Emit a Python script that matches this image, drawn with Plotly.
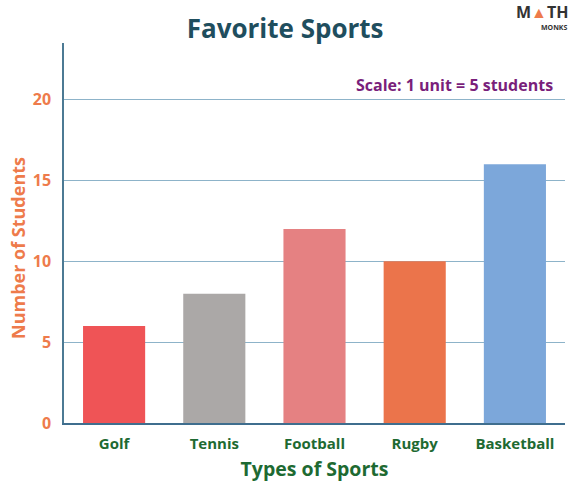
import plotly.graph_objects as go

# Favourite sports survey
sports = ["Golf", "Tennis", "Football", "Rugby", "Basketball"]
students = [6, 8, 12, 10, 16]
bar_colors = ["#EF5456", "#ABA8A7", "#E58182", "#EB744B", "#7CA7DA"]
y_ticks = [0, 5, 10, 15, 20]

FONT = "Open Sans"

# plot-area geometry in pixels
W, H = 576, 486
ML, MR, MT, MB = 64, 11, 43, 63
PW, PH = W - ML - MR, H - MT - MB


def px_to_paper(px, py):
    return (px - ML) / PW, (H - MB - py) / PH


fig = go.Figure(
    go.Bar(
        x=sports,
        y=students,
        marker=dict(color=bar_colors, line=dict(width=0)),
        hoverinfo="x+y",
    )
)

ytitle_x, ytitle_y = px_to_paper(18, 248)
scale_x, scale_y = px_to_paper(555, 85)
math_x, math_y = px_to_paper(570, 12)
monks_x, monks_y = px_to_paper(570, 27)

fig.update_layout(
    width=W,
    height=H,
    margin=dict(l=ML, r=MR, t=MT, b=MB, autoexpand=False),
    paper_bgcolor="white",
    plot_bgcolor="white",
    bargap=0.38,
    showlegend=False,
    title=dict(
        text="<b>Favorite Sports</b>",
        x=0.495,
        xanchor="center",
        y=1 - 29 / H,
        yanchor="middle",
        font=dict(family=FONT, size=26, color="#1F4E5E"),
    ),
    xaxis=dict(
        automargin=False,
        showline=True,
        linecolor="#3F6E8E",
        linewidth=1.5,
        ticks="",
        ticklabelstandoff=6,
        tickfont=dict(family=FONT, size=15, color="#1E6A32", weight="bold"),
        title=dict(
            text="<b>Types of Sports</b>",
            font=dict(family=FONT, size=19.5, color="#1E6A32"),
            standoff=11,
        ),
    ),
    yaxis=dict(
        automargin=False,
        range=[0, 23.5],
        tickvals=y_ticks,
        showline=True,
        linecolor="#4C7A94",
        linewidth=1.5,
        showgrid=True,
        gridcolor="#8DB3C9",
        gridwidth=1,
        zeroline=False,
        ticks="",
        ticklabelstandoff=8,
        tickfont=dict(family=FONT, size=16, color="#EE7B4B", weight="bold"),
    ),
    annotations=[
        dict(
            text="<b>Number of Students</b>",
            xref="paper",
            yref="paper",
            x=ytitle_x,
            y=ytitle_y,
            xanchor="center",
            yanchor="middle",
            textangle=-90,
            showarrow=False,
            font=dict(family=FONT, size=18, color="#EE7B4B"),
        ),
        dict(
            text="<b>Scale: 1 unit = 5 students</b>",
            xref="paper",
            yref="paper",
            x=scale_x,
            y=scale_y,
            xanchor="right",
            yanchor="middle",
            showarrow=False,
            font=dict(family=FONT, size=16, color="#7A1F7B"),
        ),
        dict(
            text="<b>M<span style='color:#EE7B4B'>▲</span>TH</b>",
            xref="paper",
            yref="paper",
            x=math_x,
            y=math_y,
            xanchor="right",
            yanchor="middle",
            showarrow=False,
            font=dict(family=FONT, size=16, color="#333333"),
        ),
        dict(
            text="<b>MONKS</b>",
            xref="paper",
            yref="paper",
            x=monks_x,
            y=monks_y,
            xanchor="right",
            yanchor="middle",
            showarrow=False,
            font=dict(family=FONT, size=7, color="#333333"),
        ),
    ],
)

fig.write_html("out.html")
